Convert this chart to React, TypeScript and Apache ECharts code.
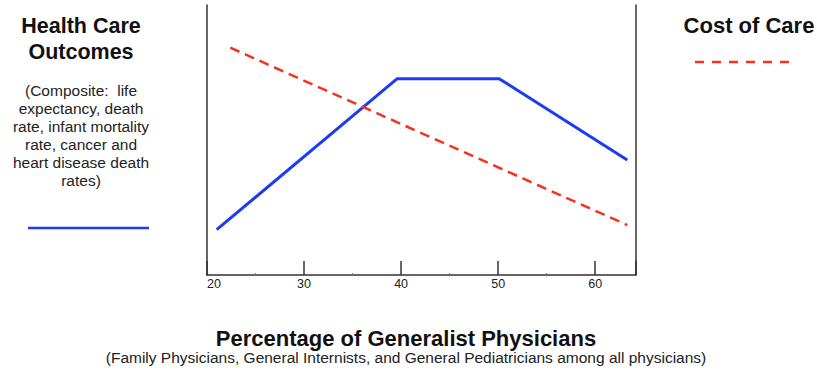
import React, { useEffect, useRef } from "react";
import * as echarts from "echarts";

const outcomesX = [21.0, 39.6, 50.1, 63.3];
const outcomesY = [16.8, 72.7, 72.7, 42.6];
const costX = [22.4, 63.3];
const costY = [84.2, 18.5];
const xTicks = [20, 30, 40, 50, 60];

const BLUE = "#1a3cf5";
const RED = "#f5331c";
const FONT = "'Liberation Sans', Arial, sans-serif";

export default function App() {
  const ref = useRef<HTMLDivElement>(null);
  useEffect(() => {
    const chart = echarts.init(ref.current!, null, { renderer: "svg" });
    const outcomes = outcomesX.map((x, i) => [x, outcomesY[i]]);
    const cost = costX.map((x, i) => [x, costY[i]]);
    chart.setOption({
      animation: false,
      grid: { left: 207, right: 181, top: 5, bottom: 95 },
      xAxis: {
        type: "value",
        min: xTicks[0],
        max: 64.2,
        interval: 10,
        axisLine: { show: true, lineStyle: { color: "#333", width: 1.5 } },
        axisTick: { show: true, inside: true, length: 14, lineStyle: { color: "#333", width: 1.5 } },
        minorTick: { show: true, splitNumber: 2, length: 2, lineStyle: { color: "#777", width: 1 } },
        splitLine: { show: false },
        axisLabel: {
          margin: 2,
          fontSize: 12.5,
          color: "#222",
          fontFamily: FONT,
          showMaxLabel: false,
          alignMinLabel: "left",
        },
      },
      yAxis: [
        {
          type: "value",
          min: 0,
          max: 100,
          position: "left",
          axisLine: { show: true, lineStyle: { color: "#333", width: 1.5 } },
          axisTick: { show: false },
          axisLabel: { show: false },
          splitLine: { show: false },
        },
        {
          type: "value",
          min: 0,
          max: 100,
          position: "right",
          axisLine: { show: true, lineStyle: { color: "#333", width: 1.5 } },
          axisTick: { show: false },
          axisLabel: { show: false },
          splitLine: { show: false },
        },
      ],
      series: [
        {
          type: "line",
          name: "Health Care Outcomes",
          data: outcomes,
          symbol: "none",
          lineStyle: { color: BLUE, width: 3 },
        },
        {
          type: "line",
          name: "Cost of Care",
          data: cost,
          symbol: "none",
          lineStyle: { color: RED, width: 2.5, type: [10, 6] },
        },
      ],
      graphic: [
        {
          type: "text",
          x: 81,
          y: 39,
          style: {
            text: "Health Care\nOutcomes",
            font: `bold 21.5px ${FONT}`,
            fill: "#111",
            align: "center",
            verticalAlign: "middle",
            lineHeight: 26,
          },
        },
        {
          type: "text",
          x: 81,
          y: 135,
          style: {
            text:
              "(Composite:  life\nexpectancy, death\nrate, infant mortality\nrate, cancer and\nheart disease death\nrates)",
            font: `15.5px ${FONT}`,
            fill: "#222",
            align: "center",
            verticalAlign: "middle",
            lineHeight: 18,
          },
        },
        {
          type: "line",
          shape: { x1: 28, y1: 228, x2: 149, y2: 228 },
          style: { stroke: BLUE, lineWidth: 2.5 },
        },
        {
          type: "text",
          x: 749,
          y: 25,
          style: {
            text: "Cost of Care",
            font: `bold 22px ${FONT}`,
            fill: "#111",
            align: "center",
            verticalAlign: "middle",
          },
        },
        {
          type: "line",
          shape: { x1: 695, y1: 62, x2: 789, y2: 62 },
          style: { stroke: RED, lineWidth: 2.5, lineDash: [9, 8] },
        },
        {
          type: "text",
          x: 406,
          y: 338,
          style: {
            text: "Percentage of Generalist Physicians",
            font: `bold 22px ${FONT}`,
            fill: "#111",
            align: "center",
            verticalAlign: "middle",
          },
        },
        {
          type: "text",
          x: 406,
          y: 357,
          style: {
            text: "(Family Physicians, General Internists, and General Pediatricians among all physicians)",
            font: `15.5px ${FONT}`,
            fill: "#222",
            align: "center",
            verticalAlign: "middle",
          },
        },
      ],
    });
    return () => chart.dispose();
  }, []);
  return (
    <div
      ref={ref}
      style={{ position: "fixed", left: 0, top: 0, width: 817, height: 370, background: "#fff" }}
    />
  );
}
